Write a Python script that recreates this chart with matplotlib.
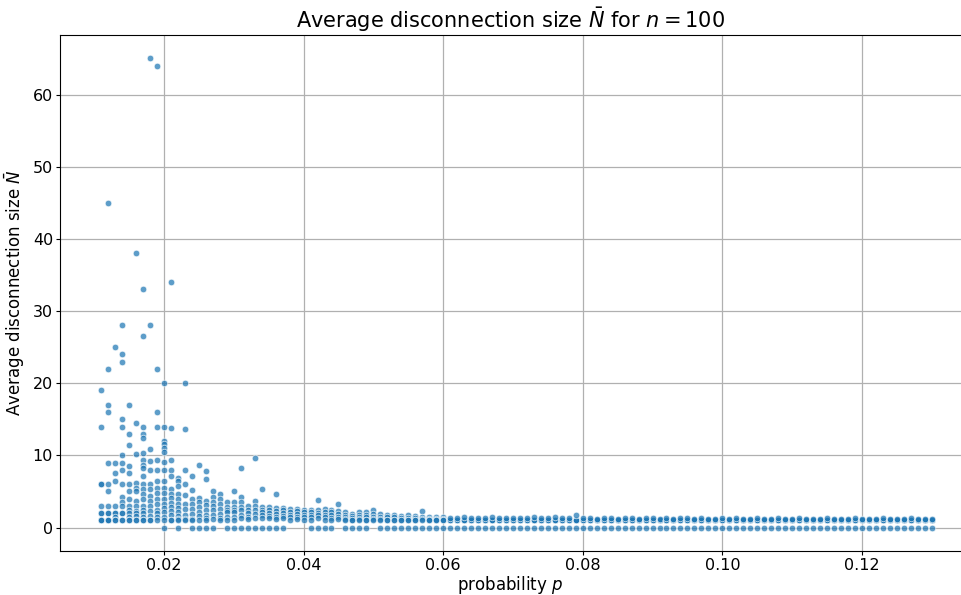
import matplotlib
matplotlib.use('Agg')
import matplotlib.pyplot as plt
import numpy as np

# sparse low-p columns
p_sparse = [0.011, 0.012, 0.013, 0.014, 0.015, 0.016, 0.017, 0.018, 0.019, 0.020]
n_sparse = [
    [19, 14, 6, 6, 3, 2, 2, 1, 1, 1],
    [45, 22, 17, 16, 9, 6, 5, 3, 2, 2, 1, 1, 1],
    [25, 9, 7.5, 6.4, 3, 2, 2, 1.5, 1, 1],
    [28, 24, 23, 15, 14, 10, 9, 8, 6, 4.3, 3.6, 3, 2, 2, 1, 1],
    [17, 13, 11.5, 8.5, 7.6, 6, 5, 4, 3, 2.5, 2, 1.5, 1, 1],
    [38, 14.5, 10.2, 6.2, 5.5, 5, 3.7, 3, 2.3, 2, 1.6, 1, 1],
    [33, 26.5, 14, 13, 12.4, 10.3, 9.4, 8.7, 8.2, 7.1, 6, 5.3, 4.6, 3.9, 3, 2.5, 2, 1.5, 1, 1],
    [65, 28, 10.9, 9.2, 8, 6, 5.3, 4.4, 3.7, 3, 2.3, 1.6, 1, 1],
    [64, 22, 16, 14, 9.3, 8, 6.5, 5.5, 4.8, 4, 3.3, 2.5, 2, 1.5, 1],
    [20, 14, 12, 11.6, 11, 10.5, 9.1, 8, 6.5, 5.5, 4.8, 4, 3.3, 2.7, 2.1, 1.5, 1, 0],
]

# middle columns 0.021 .. 0.060
p_mid = [0.021, 0.022, 0.023, 0.024, 0.025, 0.026, 0.027, 0.028, 0.029, 0.030,
         0.031, 0.032, 0.033, 0.034, 0.035, 0.036, 0.037, 0.038, 0.039, 0.040,
         0.041, 0.042, 0.043, 0.044, 0.045, 0.046, 0.047, 0.048, 0.049, 0.050,
         0.051, 0.052, 0.053, 0.054, 0.055, 0.056, 0.057, 0.058, 0.059, 0.060]
n_mid = [
    [34, 13.8, 9.4, 8, 7.1, 5.3, 4.7, 4.1, 3.4, 2.9, 2.3, 1.7, 1, 1],
    [6.8, 6.4, 5.7, 4.6, 3.9, 3.3, 2.7, 2.2, 1.6, 1.2, 1, 0],
    [20, 13.7, 8, 6, 4.5, 3.3, 2.6, 1.8, 1.2, 1],
    [7.2, 5.2, 3.9, 3.2, 2.6, 1.9, 1.2, 1, 0],
    [8.6, 4.1, 3.5, 2.8, 2.2, 1.6, 1.1, 0],
    [7.9, 6.7, 3.7, 3.1, 2.5, 1.8, 1.3, 1, 0],
    [5, 4.3, 3.6, 3, 2.4, 1.8, 1.2, 0],
    [4.7, 3.9, 3.2, 2.6, 1.9, 1.3, 1],
    [3.5, 2.9, 2.5, 2.1, 1.5, 1.1, 0],
    [5, 3.6, 2.9, 2.5, 2.1, 1.4, 1, 0],
    [8.3, 4.3, 3.6, 2.9, 2.4, 1.8, 1.3, 0],
    [3, 2.5, 2, 1.5, 1.2, 0],
    [9.7, 3.7, 3, 2.5, 1.9, 1.3, 0],
    [5.3, 2.9, 2.5, 2.1, 1.7, 1.3, 0],
    [2.8, 2.4, 2, 1.6, 1.3, 0],
    [4.6, 2.7, 2.3, 1.9, 1.5, 1.2, 0],
    [2.7, 2.4, 2, 1.6, 1.3, 0],
    [2.6, 2.2, 1.8, 1.4, 1.1],
    [2.6, 2.3, 1.9, 1.5, 1.2],
    [2.4, 2.1, 1.7, 1.4, 1.1],
    [2.5, 2.1, 1.8, 1.4, 1.1, 0],
    [3.8, 2.5, 2, 1.7, 1.3, 0],
    [2.6, 2.2, 1.8, 1.4, 1.1, 0],
    [2.4, 2.1, 1.7, 1.3, 1.1, 0],
    [3.3, 2.3, 1.9, 1.5, 1.2],
    [2.1, 1.8, 1.5, 1.2, 1, 0],
    [1.9, 1.6, 1.3, 1.1, 1, 0],
    [2.1, 1.8, 1.5, 1.2, 1, 0],
    [2.2, 1.8, 1.4, 1.1, 1, 0],
    [2.5, 1.9, 1.5, 1.2, 1],
    [1.9, 1.5, 1.2, 1, 0],
    [1.8, 1.4, 1.1, 1, 0],
    [1.7, 1.4, 1.1, 1, 0],
    [1.6, 1.3, 1, 1, 0],
    [1.7, 1.3, 1.1, 1, 0],
    [1.6, 1.3, 1, 1, 0],
    [2.3, 1.5, 1.2, 1, 0],
    [1.5, 1.2, 1, 1, 0],
    [1.4, 1.2, 1, 1, 0],
    [1.5, 1.2, 1, 1, 0],
]

# flat tail 0.061 .. 0.130: every column has the same base points plus one top value
p_tail = list(np.round(np.arange(61, 131) / 1000, 3))
n_tail_base = [0, 1, 1, 1, 1.1]
n_tail_top = [1.35, 1.3, 1.4, 1.3, 1.35, 1.3, 1.4, 1.3, 1.3, 1.35,
              1.3, 1.3, 1.45, 1.3, 1.3, 1.4, 1.3, 1.3, 1.8, 1.3,
              1.3, 1.25, 1.3, 1.3, 1.25, 1.3, 1.3, 1.25, 1.3, 1.3,
              1.25, 1.3, 1.25, 1.3, 1.3, 1.25, 1.3, 1.25, 1.25, 1.3,
              1.25, 1.3, 1.25, 1.25, 1.3, 1.25, 1.25, 1.3, 1.25, 1.25,
              1.3, 1.25, 1.25, 1.25, 1.3, 1.25, 1.25, 1.25, 1.3, 1.25,
              1.25, 1.25, 1.3, 1.25, 1.25, 1.25, 1.3, 1.25, 1.25, 1.2]

xs, ys = [], []
for p, vals in zip(p_sparse + p_mid, n_sparse + n_mid):
    xs += [p] * len(vals)
    ys += vals
for p, top in zip(p_tail, n_tail_top):
    vals = n_tail_base + [top]
    xs += [p] * len(vals)
    ys += vals

fig = plt.figure(figsize=(9.61, 5.95), dpi=100)
ax = fig.add_axes([60 / 961, 44 / 595, 1 - 60 / 961, 516 / 595])

ax.scatter(xs, ys, s=22, color='#1f77b4', alpha=0.72,
           edgecolors='white', linewidths=0.6, zorder=3)

ax.set_xlim(0.0051, 0.1342)
ax.set_ylim(-3.25, 68.25)
ax.set_xticks([0.02, 0.04, 0.06, 0.08, 0.10, 0.12])
ax.set_xticklabels(['0.02', '0.04', '0.06', '0.08', '0.10', '0.12'])
ax.set_yticks([0, 10, 20, 30, 40, 50, 60])
ax.grid(True, color='#b0b0b0', linewidth=0.9)
ax.set_axisbelow(True)
ax.spines['right'].set_visible(False)
ax.tick_params(labelsize=11.5, length=3, pad=2)

ax.set_title(r'Average disconnection size $\bar{N}$ for $n = 100$', fontsize=15, pad=5)
ax.set_xlabel(r'probability $p$', fontsize=12, labelpad=1)
ax.set_ylabel(r'Average disconnection size $\bar{N}$', fontsize=12, labelpad=4)

fig.savefig('out.png', dpi=100)
